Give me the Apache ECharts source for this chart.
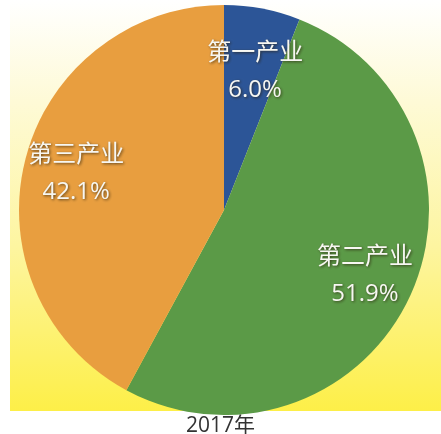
<!DOCTYPE html>
<html>
<head>
<meta charset="utf-8">
<script src="https://cdn.jsdelivr.net/npm/echarts@6/dist/echarts.min.js"></script>
<style>
html, body { margin: 0; padding: 0; background: #fff; }
#chart { width: 441px; height: 434px; }
</style>
</head>
<body>
<div id="chart"></div>
<script>
var categories = ['第一产业', '第二产业', '第三产业'];
var shares = [6.0, 51.9, 42.1];
var colors = ['#2c5597', '#5b9a47', '#e89e3f'];
var yearLabel = '2017年';

var chartDom = document.getElementById('chart');
var myChart = echarts.init(chartDom);

var labelStyle = {
    color: '#f7f7f2',
    fontSize: 24,
    lineHeight: 37,
    fontFamily: '"Open Sans", "Noto Sans CJK SC", sans-serif',
    textShadowColor: 'rgba(40,30,10,0.75)',
    textShadowBlur: 3,
    textShadowOffsetX: 1,
    textShadowOffsetY: 1
};

var pieData = categories.map((name, i) => ({
    name: name,
    value: shares[i],
    itemStyle: {color: colors[i]}
}));

// a clear ring on top only to place the labels further out than the default
var labelData = categories.map((name, i) => ({
    name: name,
    value: shares[i],
    label: i === 0 ? {offset: [2, 14]} : (i === 2 ? {offset: [3, 2]} : {})
}));

var option = {
    animation: false,
    graphic: [{
        type: 'rect',
        z: -10,
        shape: {x: 10, y: 0, width: 431, height: 411},
        style: {
            fill: new echarts.graphic.LinearGradient(0, 0, 0, 1, [
                {offset: 0, color: '#ffffff'},
                {offset: 0.25, color: '#fefad6'},
                {offset: 0.6, color: '#fdf5a0'},
                {offset: 1, color: '#fdef48'}
            ])
        }
    }],
    title: {
        text: yearLabel,
        left: 'center',
        top: 411,
        textStyle: {
            color: '#333',
            fontSize: 21,
            fontWeight: 'normal',
            fontFamily: '"Open Sans", "Noto Sans CJK SC", sans-serif'
        }
    },
    series: [
        {
            type: 'pie',
            center: [224, 210],
            radius: 205,
            startAngle: 90,
            clockwise: true,
            label: {show: false},
            labelLine: {show: false},
            data: pieData
        },
        {
            type: 'pie',
            silent: true,
            center: [224, 210],
            radius: [100, 205],
            startAngle: 90,
            clockwise: true,
            itemStyle: {color: 'rgba(0,0,0,0)'},
            label: Object.assign({
                show: true,
                position: 'inside',
                formatter: p => p.name + '\n' + p.value.toFixed(1) + '%'
            }, labelStyle),
            labelLine: {show: false},
            data: labelData
        }
    ]
};

myChart.setOption(option);
</script>
</body>
</html>
